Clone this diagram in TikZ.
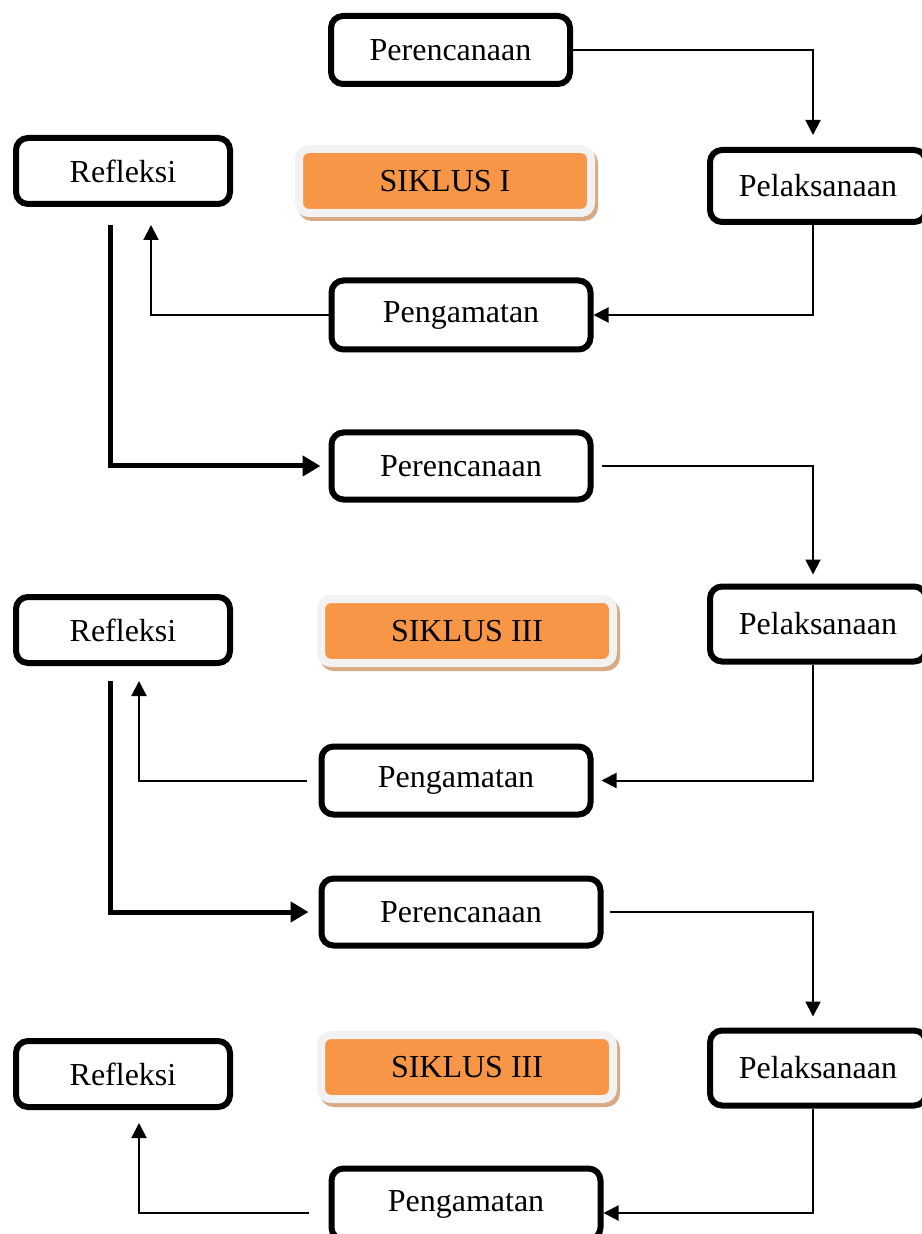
\documentclass[tikz,border=0pt]{standalone}
\usepackage{fontspec}
\setmainfont{Liberation Serif}
\usetikzlibrary{arrows.meta}

\definecolor{siklusorange}{HTML}{F79646}
\definecolor{siklusframe}{HTML}{F2F2F2}
\definecolor{siklusshadow}{HTML}{D8A982}

\begin{document}
\begin{tikzpicture}[x=0.5pt,y=-0.5pt,
  kotak/.style={draw, line width=3pt, rounded corners=6pt, fill=white, inner sep=0pt, font=\fontsize{16}{19}\selectfont},
  siklus/.style={fill=siklusorange, draw=siklusframe, line width=4pt, rounded corners=5pt, minimum width=146pt, minimum height=32pt, font=\fontsize{16}{19}\selectfont,
    preaction={fill=siklusshadow, draw=siklusshadow, line width=4pt, transform canvas={xshift=1.5pt,yshift=-2pt}}},
  alur/.style={line width=1pt, -{Triangle[length=7.5pt,width=7.5pt]}},
  balik/.style={line width=2.5pt, -{Triangle[length=9pt,width=10pt]}}]

\useasboundingbox (0,0) rectangle (921,1234);

%% siklus I
\node[kotak, minimum width=119.5pt, minimum height=34pt] (per1) at (450.5,50) {Perencanaan};
\node[kotak, minimum width=107pt, minimum height=33pt] (ref1) at (123,171) {Refleksi};
\node[siklus] (sik1) at (445,181) {SIKLUS I};
\node[kotak, minimum width=108pt, minimum height=36pt] (pel1) at (818,186) {Pelaksanaan};
\node[kotak, minimum width=129.5pt, minimum height=34.5pt] (pen1) at (461,315) {Pengamatan};

%% siklus II
\node[kotak, minimum width=129.5pt, minimum height=33.5pt] (per2) at (461,466) {Perencanaan};
\node[kotak, minimum width=107pt, minimum height=33pt] (ref2) at (123,630) {Refleksi};
\node[siklus] (sik2) at (467,631) {SIKLUS III};
\node[kotak, minimum width=108pt, minimum height=37.5pt] (pel2) at (818,624) {Pelaksanaan};
\node[kotak, minimum width=134.5pt, minimum height=34pt] (pen2) at (456,780.5) {Pengamatan};

%% siklus III
\node[kotak, minimum width=139.5pt, minimum height=33.5pt] (per3) at (461,912) {Perencanaan};
\node[kotak, minimum width=107pt, minimum height=33pt] (ref3) at (123,1074) {Refleksi};
\node[siklus] (sik3) at (467,1067) {SIKLUS III};
\node[kotak, minimum width=108pt, minimum height=37.5pt] (pel3) at (818,1068) {Pelaksanaan};
\node[kotak, minimum width=134.5pt, minimum height=35.5pt] (pen3) at (466,1204) {Pengamatan};

%%% alur
\draw[alur, shorten >=6pt] (per1.east) -| ([xshift=-2.5pt]pel1.north);
\draw[alur] ([xshift=-2.5pt]pel1.south) |- (pen1.east);
\draw[alur, shorten >=9pt] (pen1.west) -| ([xshift=14pt]ref1.south);
\draw[balik, shorten <=9pt, shorten >=4pt] ([xshift=-6.5pt]ref1.south) |- (per2.west);

\draw[alur, shorten <=4pt, shorten >=4.5pt] (per2.east) -| ([xshift=-2.5pt]pel2.north);
\draw[alur, shorten >=4pt] ([xshift=-2.5pt]pel2.south) |- (pen2.east);
\draw[alur, shorten <=6pt, shorten >=7.5pt] (pen2.west) -| ([xshift=8pt]ref2.south);
\draw[balik, shorten <=7.5pt, shorten >=5pt] ([xshift=-6.5pt]ref2.south) |- (per3.west);

\draw[alur, shorten <=3pt, shorten >=5.5pt] (per3.east) -| ([xshift=-2.5pt]pel3.north);
\draw[alur] ([xshift=-2.5pt]pel3.south) |- ([yshift=-4.5pt]pen3.east);
\draw[alur, shorten <=10pt, shorten >=6.5pt] ([yshift=-4.5pt]pen3.west) -| ([xshift=8pt]ref3.south);

\end{tikzpicture}
\end{document}
